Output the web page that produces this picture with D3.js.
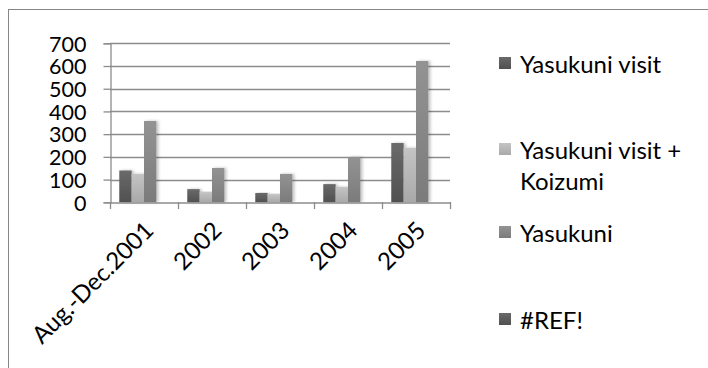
<!DOCTYPE html>
<html>
<head>
<meta charset="utf-8">
<script src="https://cdn.jsdelivr.net/npm/d3@7/dist/d3.min.js"></script>
<style>
  html, body { margin: 0; padding: 0; background: #fff; }
  svg { display: block; }
  text { font-family: Lato, "Open Sans", sans-serif; fill: #000; }
</style>
</head>
<body>
<svg id="chart" width="708" height="368"></svg>
<script>
const categories = ["Aug.-Dec.2001", "2002", "2003", "2004", "2005"];
const seriesNames = ["Yasukuni visit", "Yasukuni visit + Koizumi", "Yasukuni", "#REF!"];
const yasukuniVisit = [140, 58, 41, 80, 261];
const yasukuniVisitKoizumi = [125, 45, 36, 67, 239];
const yasukuni = [358, 151, 125, 199, 622];
const refSeries = [null, null, null, null, null];
const yTicks = [0, 100, 200, 300, 400, 500, 600, 700];
const legendLabels = [["Yasukuni visit"], ["Yasukuni visit +", "Koizumi"], ["Yasukuni"], ["#REF!"]];

const seriesValues = [yasukuniVisit, yasukuniVisitKoizumi, yasukuni, refSeries];
const colorsTop = ["#6a6a6a", "#c4c4c4", "#939393", "#6a6a6a"];
const colorsBot = ["#505050", "#a9a9a9", "#7b7b7b", "#505050"];

const svg = d3.select("#chart");
const defs = svg.append("defs");
seriesNames.forEach((s, i) => {
  const g = defs.append("linearGradient").attr("id", "grad" + i)
    .attr("x1", 0).attr("y1", 0).attr("x2", 0).attr("y2", 1);
  g.append("stop").attr("offset", "0%").attr("stop-color", colorsTop[i]);
  g.append("stop").attr("offset", "100%").attr("stop-color", colorsBot[i]);
});
const f = defs.append("filter").attr("id", "shadow").attr("x", "-20%").attr("y", "-10%").attr("width", "160%").attr("height", "130%");
f.append("feDropShadow").attr("dx", 2).attr("dy", 0).attr("stdDeviation", 1.5).attr("flood-color", "#000").attr("flood-opacity", 0.25);

// outer border
svg.append("rect").attr("x", 8.5).attr("y", 9.5).attr("width", 720).attr("height", 380)
  .attr("fill", "none").attr("stroke", "#868686").attr("stroke-width", 1);

const x = d3.scaleBand().domain(categories).range([110, 450]).paddingInner(0).paddingOuter(0);
const xs = d3.scaleBand().domain(seriesNames).range([0, x.bandwidth()]).paddingInner(0).paddingOuter(0.75);
const y = d3.scaleLinear().domain([0, 700]).range([202.3, 43.3]);

// gridlines
svg.append("g").selectAll("line").data(yTicks.filter(t => t > 0)).join("line")
  .attr("x1", 110).attr("x2", 450)
  .attr("y1", d => Math.round(y(d)) + 0.5).attr("y2", d => Math.round(y(d)) + 0.5)
  .attr("stroke", "#8c8c8c").attr("stroke-width", 1.3);

// y axis
const yAxis = d3.axisLeft(y).tickValues(yTicks).tickSize(7).tickPadding(17).tickFormat(d3.format("d"));
const yg = svg.append("g").attr("transform", "translate(110.5,0)").call(yAxis);
yg.select(".domain").attr("stroke", "#8c8c8c").attr("stroke-width", 1.3);
yg.selectAll(".tick line").attr("stroke", "#8c8c8c").attr("stroke-width", 1.3);
yg.selectAll(".tick text").style("font-size", "21.5px").attr("font-family", "Lato").attr("fill", "#000").attr("dy", "0.36em");

// bars
const groups = svg.append("g").selectAll("g").data(categories).join("g")
  .attr("transform", d => `translate(${x(d)},0)`);
groups.selectAll("rect")
  .data((c, ci) => seriesNames.map((s, si) => ({ s, si, v: seriesValues[si][ci] })).filter(d => d.v != null))
  .join("rect")
  .attr("x", d => xs(d.s))
  .attr("width", xs.bandwidth())
  .attr("y", d => y(d.v))
  .attr("height", d => y(0) - y(d.v))
  .attr("fill", d => `url(#grad${d.si})`)
  .attr("filter", "url(#shadow)");

// x axis
const xAxis = d3.axisBottom(x).tickSize(0).tickFormat("");
const xg = svg.append("g").attr("transform", `translate(0,${Math.round(y(0)) + 0.5})`).call(xAxis);
xg.select(".domain").attr("stroke", "#8c8c8c").attr("stroke-width", 1.3);
const bounds = categories.map(c => x(c)).concat([x.range()[1]]);
svg.append("g").selectAll("line").data(bounds).join("line")
  .attr("x1", d => Math.round(d) + 0.5).attr("x2", d => Math.round(d) + 0.5)
  .attr("y1", Math.round(y(0))).attr("y2", Math.round(y(0)) + 7)
  .attr("stroke", "#8c8c8c").attr("stroke-width", 1.3);

svg.append("g").selectAll("text").data(categories).join("text")
  .attr("transform", d => `translate(${x(d) + x.bandwidth() / 2 + 11},232) rotate(-45)`)
  .attr("text-anchor", "end")
  .style("font-size", "24px")
  .text(d => d);

// legend
const legendY = [57, 143, 226, 313];
const lg = svg.append("g").selectAll("g").data(seriesNames).join("g")
  .attr("transform", (d, i) => `translate(499,${legendY[i]})`);
lg.append("rect").attr("width", 12).attr("height", 12).attr("fill", (d, i) => `url(#grad${i})`);
lg.append("text").attr("x", 21).attr("y", 15.5).style("font-size", "24px")
  .selectAll("tspan").data((d, i) => legendLabels[i]).join("tspan")
  .attr("x", 21).attr("dy", (d, j) => j === 0 ? 0 : 31.5).text(d => d);
</script>
</body>
</html>
